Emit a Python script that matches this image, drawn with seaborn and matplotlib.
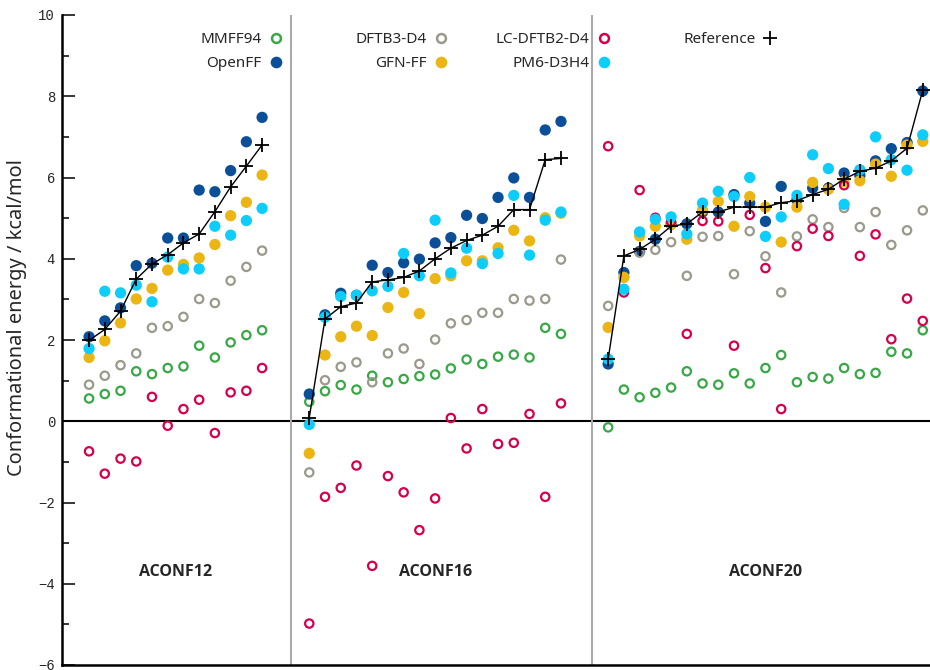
import numpy as np
import pandas as pd
import matplotlib
matplotlib.use("Agg")
import matplotlib.pyplot as plt
import seaborn as sns
from matplotlib.lines import Line2D

# ---------------------------------------------------------------- data
groups = ["ACONF12", "ACONF16", "ACONF20"]
methods = ["MMFF94", "OpenFF", "DFTB3-D4", "GFN-FF", "LC-DFTB2-D4", "PM6-D3H4"]

# ACONF12 (kcal/mol)
ref_12 = [1.99, 2.26, 2.71, 3.50, 3.87, 4.10, 4.39, 4.61, 5.16, 5.77, 6.28, 6.80]
mmff94_12 = [0.56, 0.67, 0.75, 1.23, 1.16, 1.31, 1.35, 1.86, 1.57, 1.94, 2.12, 2.24]
openff_12 = [2.08, 2.47, 2.79, 3.83, 3.89, 4.51, 4.51, 5.69, 5.65, 6.17, 6.88, 7.48]
dftb3_12 = [0.90, 1.12, 1.38, 1.67, 2.30, 2.34, 2.57, 3.01, 2.91, 3.46, 3.80, 4.20]
gfnff_12 = [1.57, 1.98, 2.42, 3.01, 3.27, 3.72, 3.86, 4.02, 4.35, 5.06, 5.39, 6.06]
lcdftb2_12 = [-0.74, -1.29, -0.92, -0.99, 0.60, -0.11, 0.30, 0.53, -0.29, 0.71, 0.75, 1.31]
pm6_12 = [1.79, 3.20, 3.16, 3.35, 2.94, 4.04, 3.75, 3.75, 4.80, 4.58, 4.94, 5.24]

# ACONF16 (kcal/mol)
ref_16 = [0.09, 2.52, 2.82, 2.91, 3.43, 3.48, 3.54, 3.70, 4.00, 4.26, 4.45, 4.58,
          4.80, 5.21, 5.21, 6.44, 6.47]
mmff94_16 = [0.48, 0.74, 0.89, 0.78, 1.12, 0.96, 1.04, 1.11, 1.15, 1.30, 1.52, 1.41,
             1.59, 1.64, 1.57, 2.30, 2.15]
openff_16 = [0.67, 2.62, 3.15, 3.10, 3.84, 3.66, 3.90, 3.99, 4.39, 4.52, 5.07, 4.99,
             5.51, 5.99, 5.51, 7.17, 7.38]
dftb3_16 = [-1.26, 1.01, 1.34, 1.45, 0.96, 1.67, 1.79, 1.41, 2.01, 2.41, 2.49, 2.67,
            2.67, 3.01, 2.97, 3.01, 3.98]
gfnff_16 = [-0.79, 1.63, 2.08, 2.34, 2.11, 2.80, 3.17, 2.65, 3.51, 3.58, 3.95, 3.95,
            4.27, 4.70, 4.44, 5.01, 5.12]
lcdftb2_16 = [-4.98, -1.86, -1.64, -1.09, -3.56, -1.35, -1.75, -2.68, -1.90, 0.08, -0.67,
              0.30, -0.56, -0.53, 0.18, -1.86, 0.44]
pm6_16 = [-0.08, 2.56, 3.07, 3.10, 3.21, 3.32, 4.13, 3.58, 4.95, 3.65, 4.26, 3.88,
          4.13, 5.56, 4.09, 4.95, 5.15]

# ACONF20 (kcal/mol)
ref_20 = [1.53, 4.07, 4.23, 4.48, 4.80, 4.86, 5.15, 5.15, 5.27, 5.27, 5.27, 5.38,
          5.43, 5.58, 5.71, 5.96, 6.15, 6.23, 6.41, 6.72, 8.15]
mmff94_20 = [-0.15, 0.78, 0.59, 0.70, 0.83, 1.23, 0.93, 0.90, 1.18, 0.93, 1.31, 1.63,
             0.96, 1.09, 1.05, 1.31, 1.16, 1.19, 1.71, 1.67, 2.24]
openff_20 = [1.41, 3.66, 4.18, 4.48, 4.85, 4.86, 5.15, 5.15, 5.58, 5.37, 4.92, 5.78,
             5.45, 5.74, 5.74, 6.11, 6.05, 6.41, 6.71, 6.86, 8.13]
dftb3_20 = [2.84, 3.55, 4.15, 4.22, 4.41, 3.58, 4.54, 4.56, 3.62, 4.68, 4.06, 3.17,
            4.55, 4.97, 4.78, 5.25, 4.78, 5.15, 4.34, 4.70, 5.19]
gfnff_20 = [2.31, 3.54, 4.56, 4.80, 4.85, 4.48, 5.20, 5.41, 4.80, 5.53, 5.27, 4.41,
            5.27, 5.88, 5.71, 5.90, 5.92, 6.33, 6.03, 6.80, 6.89]
lcdftb2_20 = [6.77, 3.17, 5.69, 5.01, 4.91, 2.15, 4.93, 4.92, 1.86, 5.08, 3.77, 0.30,
              4.31, 4.74, 4.56, 5.81, 4.07, 4.60, 2.02, 3.02, 2.47]
pm6_20 = [1.53, 3.25, 4.66, 4.97, 5.03, 4.61, 5.37, 5.66, 5.53, 6.00, 4.55, 5.03,
          5.56, 6.56, 6.22, 5.34, 6.19, 7.00, 6.44, 6.18, 7.05]

series = {
    "ACONF12": {"Reference": ref_12, "MMFF94": mmff94_12, "OpenFF": openff_12,
                "DFTB3-D4": dftb3_12, "GFN-FF": gfnff_12,
                "LC-DFTB2-D4": lcdftb2_12, "PM6-D3H4": pm6_12},
    "ACONF16": {"Reference": ref_16, "MMFF94": mmff94_16, "OpenFF": openff_16,
                "DFTB3-D4": dftb3_16, "GFN-FF": gfnff_16,
                "LC-DFTB2-D4": lcdftb2_16, "PM6-D3H4": pm6_16},
    "ACONF20": {"Reference": ref_20, "MMFF94": mmff94_20, "OpenFF": openff_20,
                "DFTB3-D4": dftb3_20, "GFN-FF": gfnff_20,
                "LC-DFTB2-D4": lcdftb2_20, "PM6-D3H4": pm6_20},
}

# ---------------------------------------------------------------- layout
group_start = {"ACONF12": 0, "ACONF16": 14, "ACONF20": 33}
separators = [12.82, 31.98]

colors = {
    "MMFF94": "#38a847",
    "OpenFF": "#0a4f98",
    "DFTB3-D4": "#9a998b",
    "GFN-FF": "#ebb514",
    "LC-DFTB2-D4": "#d4004e",
    "PM6-D3H4": "#0dcdfb",
}
open_markers = {"MMFF94", "DFTB3-D4", "LC-DFTB2-D4"}

rows = []
for g in groups:
    for m, vals in series[g].items():
        for i, v in enumerate(vals):
            rows.append({"group": g, "method": m, "x": group_start[g] + i, "energy": v})
df = pd.DataFrame(rows)

# ---------------------------------------------------------------- figure
sns.set_style("ticks")
plt.rcParams["font.family"] = ["Noto Sans", "DejaVu Sans"]

fig = plt.figure(figsize=(9.3, 6.7), dpi=100)
ax = fig.add_axes([62 / 930, 5 / 670, 1 - 62 / 930, 650 / 670])

ax.axhline(0, color="black", lw=1.5, zorder=1)
for s in separators:
    ax.axvline(s, color="#aaaaaa", lw=1.5, zorder=1)

for m in methods:
    sub = df[df.method == m]
    if m in open_markers:
        sns.scatterplot(data=sub, x="x", y="energy", ax=ax, marker="o", s=36,
                        facecolor="none", edgecolor=colors[m], linewidth=1.6,
                        zorder=3, legend=False)
    else:
        sns.scatterplot(data=sub, x="x", y="energy", ax=ax, marker="o", s=66,
                        color=colors[m], edgecolor="none", linewidth=0,
                        zorder=3, legend=False)

for g in groups:
    sub = df[(df.method == "Reference") & (df.group == g)]
    sns.lineplot(data=sub, x="x", y="energy", ax=ax, color="black", lw=1.0,
                 marker="+", markersize=10, markeredgewidth=1.3,
                 markeredgecolor="black", estimator=None, sort=False,
                 zorder=4, legend=False)

for g in groups:
    center = group_start[g] + (len(series[g]["Reference"]) - 1) / 2
    ax.text(center, -3.7, g, ha="center", va="center", fontsize=11.5,
            fontweight="bold", family=["Open Sans", "Noto Sans", "DejaVu Sans"])

ax.set_xlim(-1.72, 53.46)
ax.set_ylim(-6, 10)
ax.set_xticks([])
ax.set_xlabel("")
ax.set_yticks(np.arange(-6, 11, 2))
ax.set_yticks(np.arange(-5, 10, 2), minor=True)
ax.tick_params(axis="y", which="major", direction="in", length=9, width=1.3,
               pad=5, labelsize=10)
ax.tick_params(axis="y", which="minor", direction="in", length=5, width=1.3)
for lab in ax.get_yticklabels():
    lab.set_fontfamily(["Liberation Mono", "DejaVu Sans Mono"])
ax.set_ylabel("Conformational energy / kcal/mol", fontsize=14.4,
              fontweight="medium")
ax.yaxis.set_label_coords(-0.0405, 0.534)

for side in ["top", "right"]:
    ax.spines[side].set_visible(False)
for side in ["left", "bottom"]:
    ax.spines[side].set_linewidth(1.8)
    ax.spines[side].set_color("black")


# ---------------------------------------------------------------- legend
def handle(m):
    if m == "Reference":
        return Line2D([], [], ls="none", marker="+", markersize=10,
                      markeredgewidth=1.3, color="black")
    if m in open_markers:
        return Line2D([], [], ls="none", marker="o", markersize=6.4,
                      markerfacecolor="none", markeredgecolor=colors[m],
                      markeredgewidth=1.8)
    return Line2D([], [], ls="none", marker="o", markersize=8.4,
                  markerfacecolor=colors[m], markeredgecolor="none")


legend_columns = [["MMFF94", "OpenFF"], ["DFTB3-D4", "GFN-FF"],
                  ["LC-DFTB2-D4", "PM6-D3H4"], ["Reference"]]
marker_px = [276, 441, 604, 770]
for col, mx in zip(legend_columns, marker_px):
    fig.legend([handle(m) for m in col], col, loc="upper right",
               bbox_to_anchor=((mx + 7.6) / 930, 1 - 32 / 670),
               frameon=False, markerfirst=False, handlelength=1.0,
               handletextpad=0.45, borderpad=0, borderaxespad=0,
               labelspacing=0.58, fontsize=11)

fig.savefig("out.png", dpi=100)
